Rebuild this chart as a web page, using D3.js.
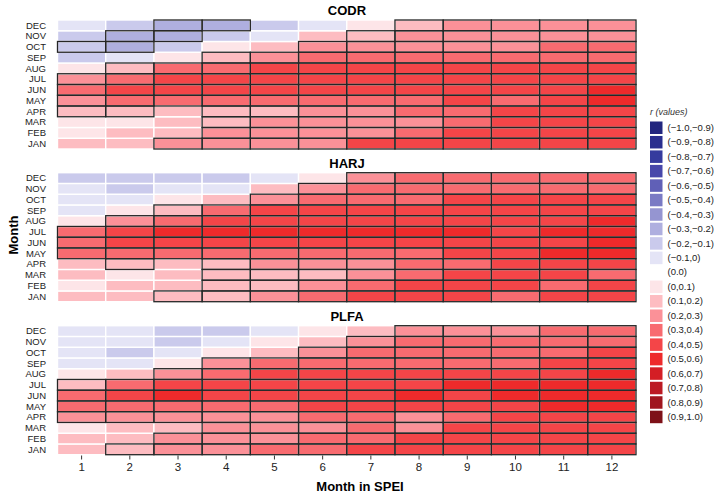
<!DOCTYPE html>
<html>
<head>
<meta charset="utf-8">
<script src="https://cdn.jsdelivr.net/npm/d3@7"></script>
<style>
  body { margin: 0; background: #fff; }
  svg text { font-family: "Liberation Sans", Arial, sans-serif; }
</style>
</head>
<body>
<svg id="chart" width="720" height="498"></svg>
<script>
// months of the year (rows), JAN first
var months = ["JAN","FEB","MAR","APR","MAY","JUN","JUL","AUG","SEP","OCT","NOV","DEC"];
// SPEI accumulation scale (columns)
var speiMonths = [1,2,3,4,5,6,7,8,9,10,11,12];
var sites = ["CODR","HARJ","PLFA"];

// correlation r, read as the middle of each colour bin; rows JAN..DEC
var codrR = [
  [.15,.15,.25,.25,.25,.25,.45,.45,.45,.45,.45,.45],
  [.05,.15,.15,.25,.25,.25,.25,.35,.45,.45,.45,.45],
  [.05,.05,.15,.15,.25,.25,.25,.25,.35,.45,.45,.45],
  [.15,.15,.15,.15,.15,.25,.25,.35,.35,.45,.45,.45],
  [.25,.35,.35,.35,.35,.35,.35,.35,.45,.35,.45,.55],
  [.35,.45,.45,.45,.45,.45,.45,.45,.45,.45,.45,.55],
  [.25,.35,.45,.45,.45,.45,.45,.45,.45,.45,.45,.45],
  [.05,.15,.35,.35,.45,.45,.45,.45,.45,.45,.45,.45],
  [-.15,-.05,.05,.15,.25,.35,.35,.35,.35,.35,.35,.35],
  [-.15,-.25,-.15,.05,.15,.25,.25,.25,.25,.25,.35,.35],
  [-.15,-.25,-.25,-.15,-.05,.15,.15,.25,.25,.25,.25,.25],
  [-.05,-.15,-.25,-.25,-.15,-.05,.05,.15,.25,.25,.25,.25]
];
var harjR = [
  [.15,.15,.15,.15,.25,.35,.45,.45,.45,.35,.45,.45],
  [.05,.15,.15,.15,.15,.25,.35,.45,.45,.45,.35,.45],
  [.15,.05,.15,.15,.15,.15,.25,.35,.45,.45,.45,.35],
  [.15,.15,.15,.15,.25,.25,.25,.35,.35,.45,.45,.45],
  [.35,.35,.35,.35,.35,.35,.35,.35,.45,.45,.55,.55],
  [.35,.45,.45,.45,.45,.45,.45,.45,.45,.45,.45,.55],
  [.35,.45,.55,.55,.55,.55,.55,.55,.55,.45,.55,.55],
  [.05,.25,.35,.45,.45,.45,.45,.45,.45,.45,.45,.55],
  [-.05,.05,.15,.35,.45,.45,.45,.45,.45,.45,.45,.45],
  [-.05,-.05,.05,.15,.25,.35,.35,.35,.45,.45,.45,.45],
  [-.05,-.15,-.05,-.05,.15,.25,.35,.35,.35,.35,.35,.35],
  [-.15,-.15,-.15,-.15,-.05,.05,.25,.35,.35,.35,.35,.35]
];
var plfaR = [
  [.15,.15,.25,.25,.35,.35,.45,.45,.45,.45,.45,.45],
  [.15,.15,.25,.25,.25,.35,.35,.45,.45,.45,.45,.45],
  [.05,.15,.15,.25,.25,.25,.35,.25,.45,.45,.45,.45],
  [.25,.25,.25,.25,.25,.35,.35,.25,.35,.45,.45,.45],
  [.35,.35,.35,.35,.35,.45,.45,.45,.45,.45,.55,.55],
  [.35,.45,.55,.45,.45,.45,.45,.55,.45,.55,.55,.55],
  [.15,.35,.45,.45,.45,.45,.45,.45,.55,.55,.55,.55],
  [.05,.15,.25,.35,.45,.45,.45,.45,.45,.45,.45,.55],
  [-.05,-.05,.05,.25,.35,.35,.35,.35,.35,.35,.45,.45],
  [-.05,-.15,-.05,.05,.15,.25,.35,.35,.35,.35,.35,.45],
  [-.05,-.05,-.15,-.05,.05,.15,.25,.35,.35,.35,.35,.35],
  [-.05,-.05,-.15,-.15,-.05,.05,.15,.25,.25,.25,.35,.35]
];

// significant cells (black outline), rows JAN..DEC
var codrSig = ["001111111111","000111111111","000111111111","110111111111",
               "111111111111","111111111111","111111111111","011111111111",
               "000111111111","110001111111","011000111111","001100011111"];
var harjSig = ["001111111111","000111111111","000111111111","010111111111",
               "111111111111","111111111111","111111111111","011111111111",
               "001111111111","000011111111","000001111111","000000111111"];
var plfaSig = ["011111111111","001111111111","000111111111","111111111111",
               "111111111111","111111111111","111111111111","001111111111",
               "000111111111","000001111111","000000111111","000000011111"];

// legend bins
var binLabels = ["(\u22121.0,\u22120.9)","(\u22120.9,\u22120.8)","(\u22120.8,\u22120.7)","(\u22120.7,\u22120.6)",
  "(\u22120.6,\u22120.5)","(\u22120.5,\u22120.4)","(\u22120.4,\u22120.3)","(\u22120.3,\u22120.2)",
  "(\u22120.2,\u22120.1)","(\u22120.1,0)","(0.0)","(0,0.1)","(0.1,0.2)","(0.2,0.3)","(0.3,0.4)",
  "(0.4,0.5)","(0.5,0.6)","(0.6,0.7)","(0.7,0.8)","(0.8,0.9)","(0.9,1.0)"];
var binColors = ["#22267f","#2a2f8f","#363b9e","#4747aa","#6060b7","#7a7ac4","#9595d1","#afafdf",
  "#cacaec","#e4e4f6","#ffffff","#fde5e8","#fdbcc1","#fb9198","#f86b70","#f44548",
  "#ee2a2b","#d41e25","#bc1a23","#a0161e","#7e1118"];
var binThresholds = [-0.9,-0.8,-0.7,-0.6,-0.5,-0.4,-0.3,-0.2,-0.1,0,0.0001,0.1,0.2,0.3,0.4,0.5,0.6,0.7,0.8,0.9];

var panels = [
  {name: sites[0], r: codrR, sig: codrSig, top: 20},
  {name: sites[1], r: harjR, sig: harjSig, top: 172.7},
  {name: sites[2], r: plfaR, sig: plfaSig, top: 325.7}
];

var svg = d3.select("#chart");
var color = d3.scaleThreshold().domain(binThresholds).range(binColors);

var x = d3.scaleBand().domain(speiMonths).range([57.5, 636]);
var panelH = 129;

panels.forEach(function(p) {
  var y = d3.scaleBand().domain(months.slice().reverse()).range([p.top, p.top + panelH]);
  var g = svg.append("g");

  var cells = [];
  p.r.forEach(function(row, i) {
    row.forEach(function(v, j) {
      cells.push({month: months[i], spei: speiMonths[j], r: v, sig: p.sig[i][j] == "1"});
    });
  });

  // coloured cells with white gaps
  g.selectAll("rect.cell").data(cells).enter().append("rect")
    .attr("class", "cell")
    .attr("x", function(d) { return x(d.spei); })
    .attr("y", function(d) { return y(d.month); })
    .attr("width", x.bandwidth())
    .attr("height", y.bandwidth())
    .attr("fill", function(d) { return color(d.r); })
    .attr("stroke", "#fff")
    .attr("stroke-width", 1.4);

  // outline significant ones
  g.selectAll("rect.sig").data(cells.filter(function(d) { return d.sig; })).enter().append("rect")
    .attr("class", "sig")
    .attr("x", function(d) { return x(d.spei); })
    .attr("y", function(d) { return y(d.month); })
    .attr("width", x.bandwidth())
    .attr("height", y.bandwidth())
    .attr("fill", "none")
    .attr("stroke", "#262626")
    .attr("stroke-width", 1.3);

  // month labels
  g.selectAll("text.month").data(months).enter().append("text")
    .attr("x", 46)
    .attr("y", function(d) { return y(d) + y.bandwidth() / 2; })
    .attr("dy", "0.35em")
    .attr("text-anchor", "end")
    .attr("font-size", 9.5)
    .attr("fill", "#222")
    .text(function(d) { return d; });

  g.append("text")
    .attr("x", 347)
    .attr("y", p.top - 9.5)
    .attr("dy", "0.35em")
    .attr("text-anchor", "middle")
    .attr("font-size", 13)
    .attr("font-weight", "bold")
    .text(p.name);
});

// x axis under the last panel
var xAxis = d3.axisBottom(x).tickSize(4).tickPadding(3);
var ax = svg.append("g").attr("transform", "translate(0,455.5)").call(xAxis);
ax.select(".domain").remove();
ax.selectAll("line").attr("stroke", "#333");
ax.selectAll("text").attr("font-size", 11.5).attr("fill", "#222")
  .style("font-family", "Liberation Sans, Arial, sans-serif");

svg.append("text")
  .attr("x", 360).attr("y", 486).attr("dy", "0.35em")
  .attr("text-anchor", "middle")
  .attr("font-size", 13).attr("font-weight", "bold")
  .text("Month in SPEI");

svg.append("text")
  .attr("transform", "translate(13,235) rotate(-90)")
  .attr("dy", "0.35em")
  .attr("text-anchor", "middle")
  .attr("font-size", 13).attr("font-weight", "bold")
  .text("Month");

// legend
var leg = svg.append("g");
var legY = d3.scaleLinear().domain([0, binLabels.length - 1]).range([127.5, 416.7]);
leg.append("text")
  .attr("x", 650).attr("y", 112).attr("dy", "0.35em")
  .attr("font-size", 9).attr("font-style", "italic").attr("fill", "#333")
  .text("r (values)");
leg.selectAll("rect").data(binLabels.map(function(l, i) { return {label: l, color: binColors[i], i: i}; }))
  .enter().append("rect")
  .attr("x", 650)
  .attr("y", function(d) { return legY(d.i) - 6; })
  .attr("width", 12.5).attr("height", 12.5)
  .attr("fill", function(d) { return d.color; });
leg.selectAll("text.lab").data(binLabels).enter().append("text")
  .attr("class", "lab")
  .attr("x", 667.5)
  .attr("y", function(d, i) { return legY(i); })
  .attr("dy", "0.35em")
  .attr("font-size", 9.5).attr("fill", "#222")
  .text(function(d) { return d; });
</script>
</body>
</html>
